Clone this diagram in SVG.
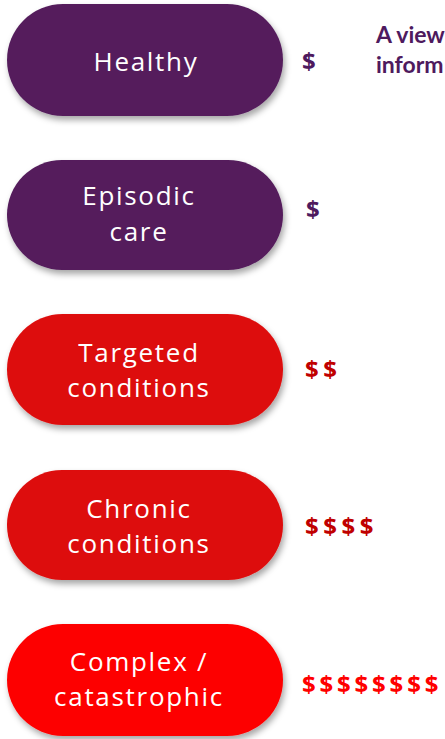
<svg xmlns="http://www.w3.org/2000/svg" width="445" height="739" viewBox="0 0 445 739">
<defs>
<filter id="sh" x="-10%" y="-20%" width="125%" height="150%">
<feDropShadow dx="2" dy="4" stdDeviation="3" flood-color="#000" flood-opacity="0.35"/>
</filter>
<style>
.pill{filter:url(#sh)}
.purple{fill:#541F5C}
.red{fill:#DD0B0B}
.bright{fill:#FD0000}
.lbl{font-family:"Open Sans","Liberation Sans",sans-serif;font-size:26px;letter-spacing:1.7px;fill:#fff;text-anchor:middle}
.cost{font-family:"Open Sans","Liberation Sans",sans-serif;font-size:24px;font-weight:700;letter-spacing:4.5px}
.note{font-family:Lato,"Liberation Sans",sans-serif;font-size:23px;font-weight:700;fill:#4E1A5E}
</style>
</defs>
<rect width="445" height="739" fill="#fff"/>
<g id="healthy">
<rect class="pill purple" x="7" y="4" width="276" height="112" rx="56"/>
<text class="lbl" x="146" y="71">Healthy</text>
<text class="cost" x="302" y="70" fill="#4E1A5E">$</text>
</g>
<g id="episodic">
<rect class="pill purple" x="7" y="160" width="276" height="110" rx="55"/>
<text class="lbl" x="139" y="205">Episodic</text>
<text class="lbl" x="139" y="241">care</text>
<text class="cost" x="306" y="218" fill="#4E1A5E">$</text>
</g>
<g id="targeted">
<rect class="pill red" x="7" y="314" width="276" height="111" rx="55.5"/>
<text class="lbl" x="139" y="362">Targeted</text>
<text class="lbl" x="139" y="397">conditions</text>
<text class="cost" x="305" y="378" fill="#C00000">$$</text>
</g>
<g id="chronic">
<rect class="pill red" x="7" y="470" width="276" height="110" rx="55"/>
<text class="lbl" x="139" y="518">Chronic</text>
<text class="lbl" x="139" y="553">conditions</text>
<text class="cost" x="305" y="535" fill="#C00000">$$$$</text>
</g>
<g id="complex">
<rect class="pill bright" x="7" y="624" width="276" height="112" rx="56"/>
<text class="lbl" x="139" y="671">Complex /</text>
<text class="lbl" x="139" y="706">catastrophic</text>
<text class="cost" x="302" y="693" fill="#FF0000" style="letter-spacing:3.8px">$$$$$$$$</text>
</g>
<g id="note">
<text class="note" x="376" y="43">A view</text>
<text class="note" x="376" y="73">inform</text>
</g>
<g id="connectors"/>
</svg>
